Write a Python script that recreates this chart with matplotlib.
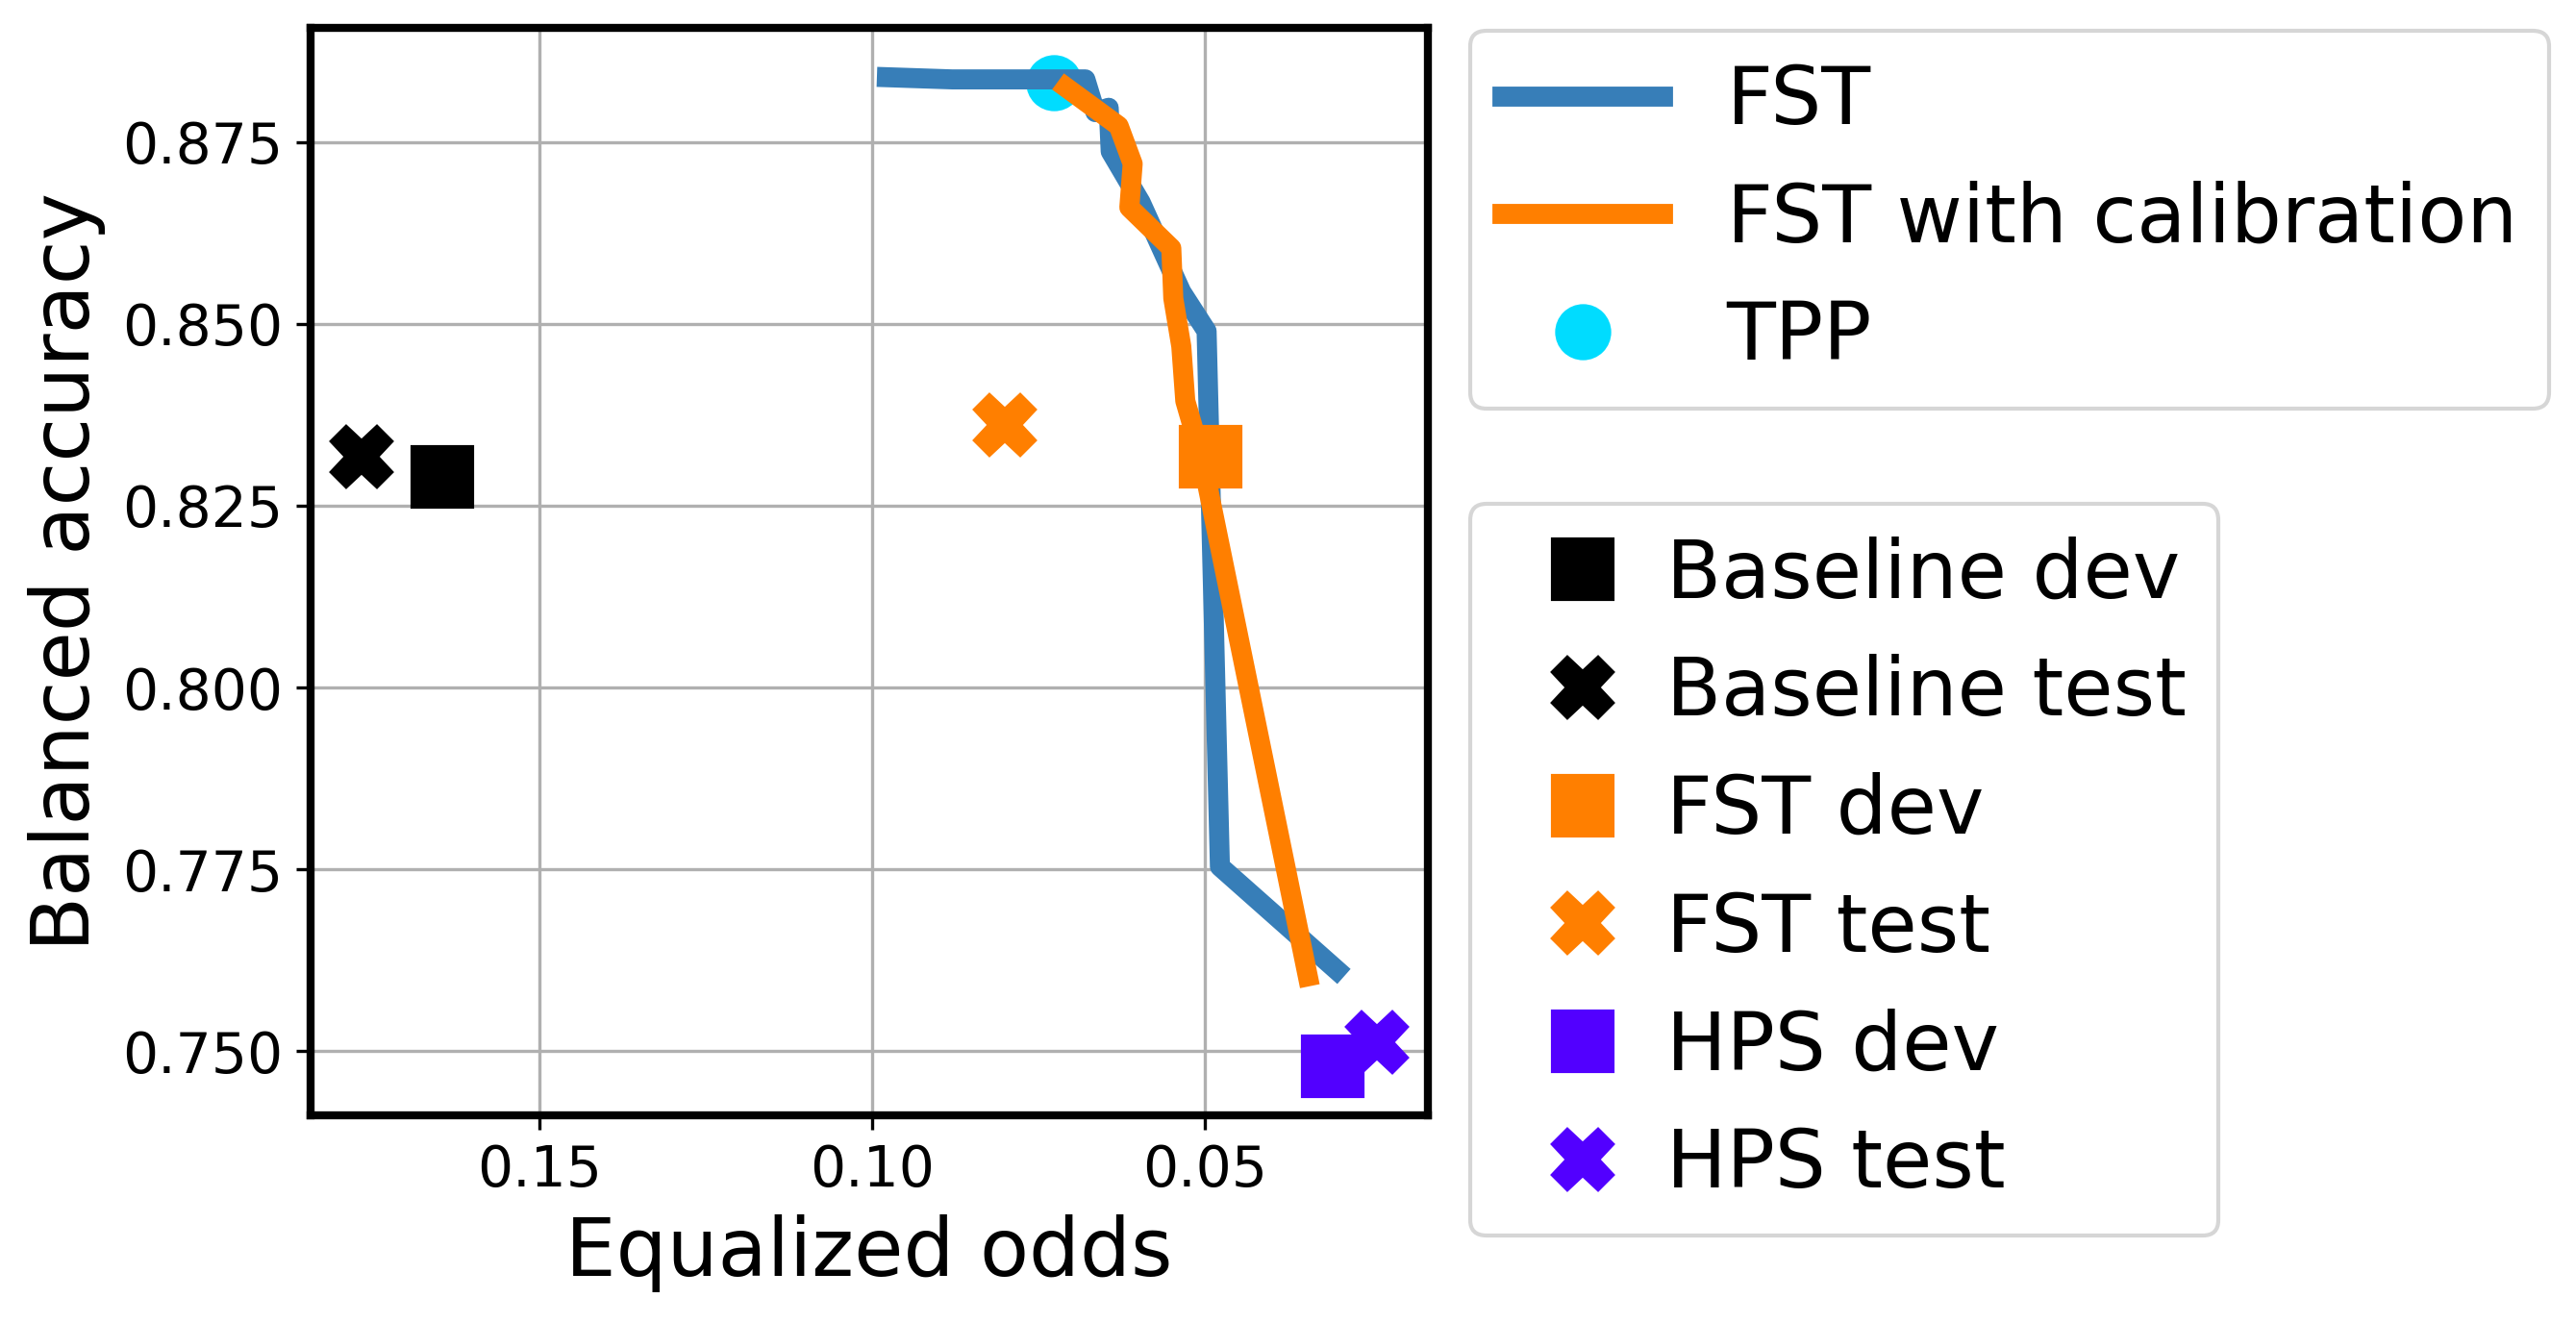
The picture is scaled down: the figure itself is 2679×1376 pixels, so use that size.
import matplotlib.pyplot as plt

# FST curve: equalized odds (x) vs balanced accuracy (y)
fst_eo = [0.0978, 0.088, 0.068, 0.0665, 0.0645, 0.0642, 0.0597, 0.0536, 0.0498, 0.0478, 0.0303]
fst_ba = [0.8839, 0.8836, 0.8836, 0.8791, 0.8797, 0.8737, 0.8667, 0.8544, 0.8490, 0.7754, 0.7612]

# FST with calibration
cal_eo = [0.0709, 0.0630, 0.0609, 0.0614, 0.0551, 0.0548, 0.0536, 0.0530, 0.0505, 0.0346]
cal_ba = [0.8825, 0.8772, 0.8720, 0.8660, 0.8604, 0.8535, 0.8469, 0.8394, 0.8315, 0.7603]

tpp_eo, tpp_ba = [0.0728], [0.8832]

point_labels = ["Baseline dev", "Baseline test", "FST dev", "FST test", "HPS dev", "HPS test"]
point_eo = [0.1646, 0.1767, 0.0492, 0.0801, 0.0309, 0.0242]
point_ba = [0.8290, 0.8318, 0.8318, 0.8361, 0.7480, 0.7512]
point_colors = ["black", "black", "#ff7f00", "#ff7f00", "#5200ff", "#5200ff"]
point_markers = ["s", "X", "s", "X", "s", "X"]

fig = plt.figure(figsize=(2679 / 300, 1376 / 300), dpi=300)
ax = fig.add_axes([0.1206, 0.157, 0.4337, 0.822])

h_tpp, = ax.plot(tpp_eo, tpp_ba, "o", color="#00dcff", ms=13, label="TPP", zorder=2)
h_fst, = ax.plot(fst_eo, fst_ba, color="#377eb8", lw=5, label="FST", zorder=3)
h_cal, = ax.plot(cal_eo, cal_ba, color="#ff7f00", lw=5, label="FST with calibration", zorder=4)

pt_handles = []
for lab, x, y, c, m in zip(point_labels, point_eo, point_ba, point_colors, point_markers):
    h, = ax.plot([x], [y], m, color=c, ms=15, ls="none", label=lab, zorder=5)
    pt_handles.append(h)

ax.invert_xaxis()
ax.set_xticks([0.15, 0.10, 0.05])
ax.set_yticks([0.750, 0.775, 0.800, 0.825, 0.850, 0.875])
ax.grid(True)
ax.set_axisbelow(True)
ax.tick_params(labelsize=14)
for s in ax.spines.values():
    s.set_linewidth(2)
ax.set_xlabel("Equalized odds", fontsize=20)
ax.set_ylabel("Balanced accuracy", fontsize=20)

leg1 = fig.legend([h_fst, h_cal, h_tpp], ["FST", "FST with calibration", "TPP"],
                  loc="upper left", bbox_to_anchor=(0.5707, 0.977), borderaxespad=0,
                  fontsize=20)
leg2 = fig.legend(pt_handles, point_labels, loc="upper left",
                  bbox_to_anchor=(0.5707, 0.619), borderaxespad=0,
                  fontsize=20, handletextpad=0.05)

fig.savefig("out.png", dpi=300)
